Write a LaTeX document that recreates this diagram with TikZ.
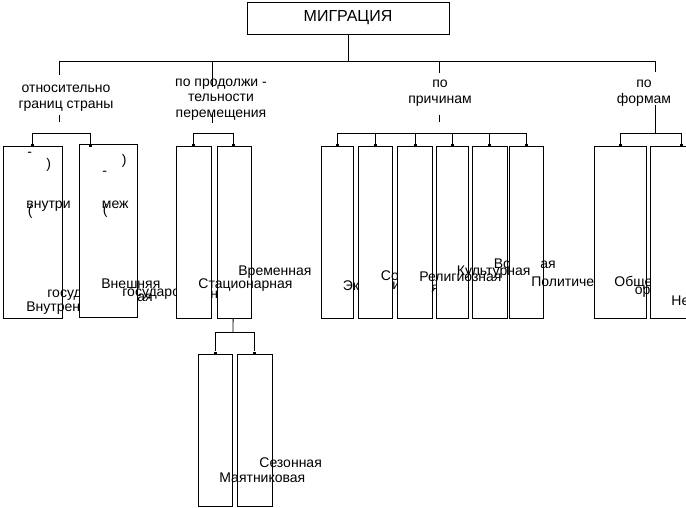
\documentclass[tikz,border=0pt]{standalone}
\usepackage{fontspec}
\setmainfont{Liberation Sans}

\begin{document}
\begin{tikzpicture}[x=1pt,y=-1pt,line width=0.8pt,
   font=\fontsize{14}{16}\selectfont,
   box/.style={draw,fill=white,inner sep=0pt,minimum height=172pt},
   frag/.style={anchor=base west,inner sep=0pt},
   lbl/.style={align=center,inner sep=0pt},
   jdot/.style={fill,inner sep=0pt,minimum size=3pt}]
   \useasboundingbox (0,0) rectangle (686,508);
   \clip (0,0) rectangle (686,508);

   % title and main bus
   \node[draw,minimum width=202pt,minimum height=32pt,inner sep=0pt,font=\fontsize{16}{18}\selectfont] (migr) at (348,18) {МИГРАЦИЯ};
   \coordinate (bus) at (348,61);
   \coordinate (busA) at (59,61);
   \coordinate (busB) at (212,61);
   \coordinate (busC) at (439,61);
   \coordinate (busD) at (655,61);
   \draw (migr) -- (bus);
   \draw (busA) -- (busD);

   % criteria
   \node[lbl] (lblA) at (66,97.7) {относительно\\границ страны};
   \node[lbl,font=\fontsize{14}{15.5}\selectfont] (lblB) at (221,99.2) {по продолжи -\\тельности\\перемещения};
   \node[lbl] (lblC) at (440,92.7) {по\\причинам};
   \node[lbl] (lblD) at (644,92.7) {по\\формам};

   \coordinate (aTop) at (59,75);  \coordinate (aBot) at (59,115);  \coordinate (aEnd) at (59,122);
   \coordinate (bTop) at (212,87); \coordinate (bBot) at (212,113); \coordinate (bEnd) at (212,123);
   \coordinate (cTop) at (439,73); \coordinate (cBot) at (439,115); \coordinate (cEnd) at (439,122);
   \coordinate (dTop) at (655,72); \coordinate (dBot) at (655,105);
   \draw (busA) -- (aTop); \draw (aBot) -- (aEnd);
   \draw (busB) -- (bTop); \draw (bBot) -- (bEnd);
   \draw (busC) -- (cTop); \draw (cBot) -- (cEnd);
   \draw (busD) -- (dTop);

   % borders
   \node[box,minimum width=59pt] (vnutr) at (32.5,232) {};
   \node[frag] (vnutrA) at (27,156.5) {-};
   \node[frag] (vnutrB) at (46,169) {)};
   \node[frag] (vnutrC) at (26,208) {внутри};
   \node[frag] (vnutrD) at (27.5,215) {(};
   \node[frag] (vnutrE) at (47,297) {госуд};
   \node[frag] (vnutrF) at (26,311) {Внутрен};
   \node[box,minimum width=58pt,minimum height=173pt] (vnesh) at (108,230.5) {};
   \node[frag] (vneshA) at (121.5,165) {)};
   \node[frag] (vneshB) at (102,175.5) {-};
   \node[frag] (vneshC) at (101.5,208) {меж};
   \node[frag] (vneshD) at (102.5,214.5) {(};
   \node[frag] (vneshE) at (101,288) {Внешняя};
   \node[frag] (vneshF) at (122,296.5) {государо};
   \node[frag] (vneshG) at (137,301) {ая};

   % duration
   \node[box,minimum width=35pt] (stac) at (193.5,232) {};
   \node[frag] (stacA) at (210,298) {н};
   \node[box,minimum width=34pt] (vrem) at (234,232) {};
   \node[frag] (stacB) at (198,288) {Стационарная};
   \node[frag] (vremA) at (238,276) {Временная};
   \node[box,minimum width=34pt,minimum height=152pt] (mayat) at (215,430) {};
   \node[box,minimum width=35pt,minimum height=152pt] (sezon) at (254.5,430) {};
   \node[frag] (sezonA) at (259,467) {Сезонная};
   \node[frag] (mayatA) at (219,482) {Маятниковая};

   % causes
   \node[box,minimum width=32pt] (ekon) at (337,232) {};
   \node[frag] (ekonA) at (342.5,290) {Эк};
   \node[box,minimum width=34pt] (soc) at (375,232) {};
   \node[frag] (socA) at (380.5,280.5) {Со};
   \node[frag] (socB) at (392,289.5) {и};
   \node[box,minimum width=35pt] (relig) at (414.5,232) {};
   \node[frag] (religA) at (431,292) {я};
   \node[box,minimum width=32pt] (kult) at (452,232) {};
   \node[box,minimum width=35pt] (voen) at (489.5,232) {};
   \node[frag] (voenA) at (493.5,269) {Во};
   \node[box,minimum width=34pt] (polit) at (526,232) {};
   \node[frag] (voenB) at (540,269) {ая};
   \node[frag] (religB) at (419,281) {Религиозная};
   \node[frag] (kultA) at (456.5,276) {Культурная};
   \node[frag] (politA) at (531,286.5) {Политиче};

   % forms
   \node[box,minimum width=52pt] (obsh) at (620,232) {};
   \node[frag] (obshA) at (614,286) {Обще};
   \node[frag] (obshB) at (634.5,294) {ор};
   \node[box,minimum width=62pt] (neorg) at (681,232) {};
   \node[frag] (neorgA) at (671,305) {Не};

   % group connectors
   \coordinate (hA1) at (32,133);  \coordinate (hA2) at (90,133);
   \coordinate (hB1) at (193,133); \coordinate (hB2) at (233,133);
   \coordinate (hC1) at (337,133); \coordinate (hC2) at (526,133);
   \coordinate (hD1) at (620,133); \coordinate (hD2) at (681,133);
   \draw (hA1) -- (hA2);
   \draw (hB1) -- (hB2);
   \draw (hC1) -- (hC2);
   \draw (hD1) -- (hD2);
   \draw (dBot) -- (busD|-hD1);
   \node[jdot] (dA1) at (32,146) {};  \node[jdot] (dA2) at (90,146) {};
   \node[jdot] (dB1) at (193,146) {}; \node[jdot] (dB2) at (233,146) {};
   \node[jdot] (dD1) at (620,146) {}; \node[jdot] (dD2) at (681,146) {};
   \draw (hA1) -- (dA1); \draw (hA2) -- (dA2);
   \draw (hB1) -- (dB1); \draw (hB2) -- (dB2);
   \draw (hD1) -- (dD1); \draw (hD2) -- (dD2);
   \foreach \x [count=\i] in {337,375,415,452,489,526} {
      \node[jdot] (dC\i) at (\x,146) {};
      \draw (dC\i|-hC1) -- (dC\i);
   }

   % sub-group of temporary
   \coordinate (hE0) at (233,332);
   \coordinate (hE1) at (215,332); \coordinate (hE2) at (254,332);
   \draw (vrem) -- (hE0);
   \draw (hE1) -- (hE2);
   \node[jdot] (dE1) at (215,353) {}; \node[jdot] (dE2) at (254,353) {};
   \draw (hE1) -- (dE1); \draw (hE2) -- (dE2);
\end{tikzpicture}
\end{document}
